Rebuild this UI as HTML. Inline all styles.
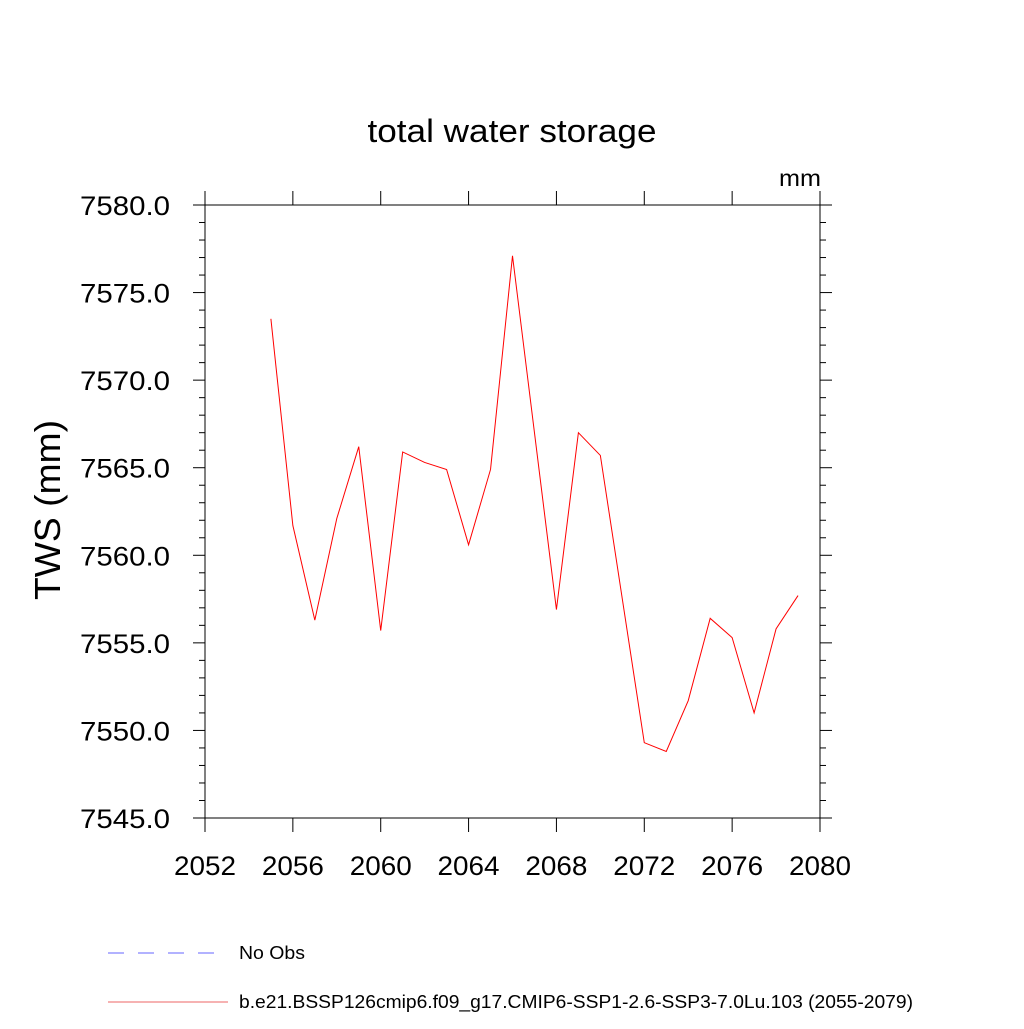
<!DOCTYPE html>
<html><head><meta charset="utf-8"><style>body{margin:0;background:#fff}svg text{font-family:"Liberation Sans",sans-serif}</style></head>
<body>
<svg id="c" width="1024" height="1024" xmlns="http://www.w3.org/2000/svg">
<text x="512" y="142" font-size="32" text-anchor="middle" textLength="289" lengthAdjust="spacingAndGlyphs">total water storage</text>
<text x="800" y="186" font-size="23" text-anchor="middle" textLength="42" lengthAdjust="spacingAndGlyphs">mm</text>
<text transform="translate(60,510) rotate(-90)" font-size="36" text-anchor="middle" textLength="180" lengthAdjust="spacingAndGlyphs">TWS  (mm)</text>
<rect x="205" y="205" width="615" height="613" fill="none" stroke="#000" stroke-width="1"/>
<g id="ticks"></g>
<polyline id="line" fill="none" stroke="#f00" stroke-width="1"/>
<line x1="108" y1="953" x2="216" y2="953" stroke="#66f" stroke-dasharray="16,14"/>
<text x="239" y="959" font-size="18" textLength="66" lengthAdjust="spacingAndGlyphs">No Obs</text>
<line x1="108" y1="1002" x2="228" y2="1002" stroke="#e66"/>
<text x="239" y="1008" font-size="18" textLength="674" lengthAdjust="spacingAndGlyphs">b.e21.BSSP126cmip6.f09_g17.CMIP6-SSP1-2.6-SSP3-7.0Lu.103 (2055-2079)</text>
</svg>
<script>
const years=[2055,2056,2057,2058,2059,2060,2061,2062,2063,2064,2065,2066,2067,2068,2069,2070,2071,2072,2073,2074,2075,2076,2077,2078,2079];
const tws=[7573.5,7561.7,7556.3,7562.1,7566.2,7555.7,7565.9,7565.3,7564.9,7560.6,7564.9,7577.1,7567.0,7556.9,7567.0,7565.7,7557.5,7549.3,7548.8,7551.7,7556.4,7555.3,7551.0,7555.8,7557.7];
const xTicks=[2052,2056,2060,2064,2068,2072,2076,2080];
const yTicks=[7545,7550,7555,7560,7565,7570,7575,7580];
const X=v=>205+(v-2052)*615/28, Y=v=>818-(v-7545)*613/35;
const ns="http://www.w3.org/2000/svg",g=document.getElementById('ticks');
function ln(x1,y1,x2,y2){const l=document.createElementNS(ns,'line');l.setAttribute('x1',x1);l.setAttribute('y1',y1);l.setAttribute('x2',x2);l.setAttribute('y2',y2);l.setAttribute('stroke','#000');


g.appendChild(l);}
function tx(x,y,s,a,w){const t=document.createElementNS(ns,'text');t.setAttribute('x',x);t.setAttribute('y',y);t.setAttribute('font-size','27');t.setAttribute('text-anchor',a);t.setAttribute('textLength',w);t.setAttribute('lengthAdjust','spacingAndGlyphs');t.textContent=s;


g.appendChild(t);}
for(let v=7545;v<=7580;v++){const y=Y(v),m=(v%5===0)?12:6;ln(205-m,y,205,y);ln(820,y,820+m,y);}
for(let v=2052;v<=2080;v++){const x=X(v),m=(v%4===0)?14:0;if(m){ln(x,818,x,818+m);ln(x,205,x,205-m);}}
xTicks.forEach(v=>tx(X(v),875,String(v),'middle',62));
yTicks.forEach(v=>tx(170,Y(v)+10,v.toFixed(1),'end',90));
document.getElementById('line').setAttribute('points',years.map((y,i)=>X(y)+','+Y(tws[i])).join(' '));
</script>
</body></html>
